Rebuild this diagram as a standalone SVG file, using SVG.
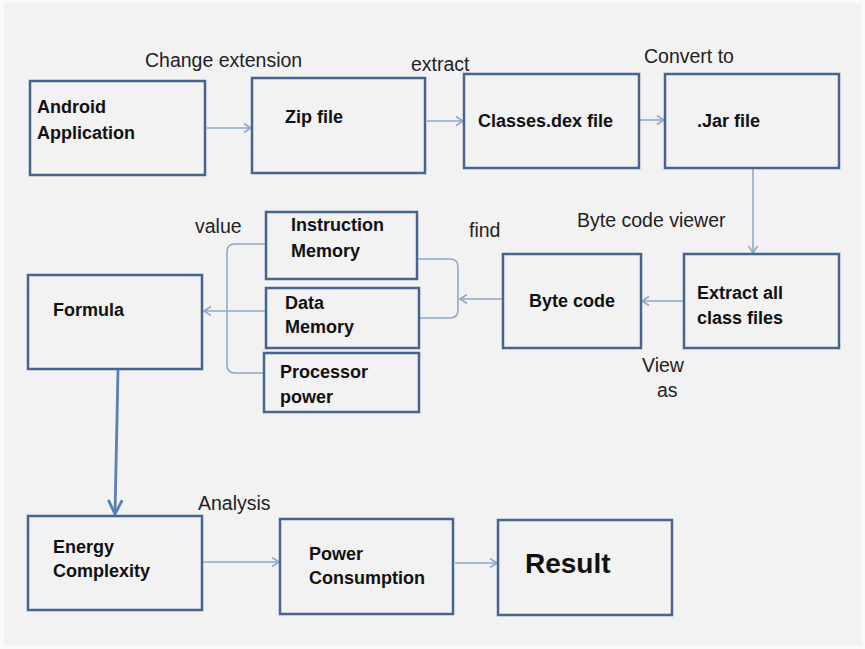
<svg xmlns="http://www.w3.org/2000/svg" width="865" height="649" viewBox="0 0 865 649">
<style>
.box{fill:none;stroke:#46648f;stroke-width:2.5}
.bl{font-family:"Liberation Sans",Arial,sans-serif;font-weight:bold;font-size:18px;fill:#111}
.lb{font-family:"Liberation Sans",Arial,sans-serif;font-size:19.5px;fill:#222}
.c{fill:none;stroke:#8ea9cb;stroke-width:1.6}
.ct{fill:none;stroke:#5a7fb5;stroke-width:2.8}
</style>
<defs>
<marker id="ah" markerUnits="userSpaceOnUse" markerWidth="12" markerHeight="12" refX="8" refY="5" orient="auto">
<path d="M1,0.5 L8,5 L1,9.5" fill="none" stroke="#8ea9cb" stroke-width="1.6"/>
</marker>
<marker id="aht" markerUnits="userSpaceOnUse" markerWidth="20" markerHeight="20" refX="15" refY="8" orient="auto">
<path d="M1,1 L15,8 L1,15" fill="none" stroke="#5a7fb5" stroke-width="2.8"/>
</marker>
</defs>
<rect x="0" y="0" width="865" height="649" fill="#fafafa"/>
<rect x="4" y="3" width="858" height="643" fill="#f2f2f2"/>

<g id="connectors">
<line class="c" x1="207" y1="128" x2="251" y2="128" marker-end="url(#ah)"/>
<line class="c" x1="427" y1="121" x2="463" y2="121" marker-end="url(#ah)"/>
<line class="c" x1="640" y1="120" x2="664" y2="120" marker-end="url(#ah)"/>
<line class="c" x1="753" y1="169" x2="753" y2="253" marker-end="url(#ah)"/>
<line class="c" x1="683" y1="301" x2="642" y2="301" marker-end="url(#ah)"/>
<line class="c" x1="502" y1="299" x2="460" y2="299" marker-end="url(#ah)"/>
<path class="c" d="M418,259 L450,259 Q458,259 458,267 L458,310 Q458,318 450,318 L420,318"/>
<path class="c" d="M265,244 L235,244 Q227,244 227,252 L227,365 Q227,373 235,373 L263,373"/>
<line class="c" x1="265" y1="311" x2="204" y2="311" marker-end="url(#ah)"/>
<line class="ct" x1="118" y1="370" x2="115" y2="514" marker-end="url(#aht)"/>
<line class="c" x1="203" y1="562" x2="279" y2="562" marker-end="url(#ah)"/>
<line class="c" x1="455" y1="563" x2="497" y2="563" marker-end="url(#ah)"/>
</g>

<g id="labels">
<text class="lb" x="145" y="67">Change extension</text>
<text class="lb" x="411" y="71">extract</text>
<text class="lb" x="644" y="63">Convert to</text>
<text class="lb" x="577" y="227">Byte code viewer</text>
<text class="lb" x="469" y="237">find</text>
<text class="lb" x="195" y="233">value</text>
<text class="lb" x="642" y="372">View</text>
<text class="lb" x="657" y="397">as</text>
<text class="lb" x="198" y="510">Analysis</text>
</g>

<g id="android">
<rect class="box" x="30" y="81" width="175" height="94"/>
<text class="bl" x="37" y="113">Android</text>
<text class="bl" x="37" y="139">Application</text>
</g>
<g id="zip">
<rect class="box" x="252" y="78" width="173" height="95"/>
<text class="bl" x="285" y="123">Zip file</text>
</g>
<g id="classes">
<rect class="box" x="464" y="74" width="175" height="94"/>
<text class="bl" x="478" y="127">Classes.dex file</text>
</g>
<g id="jar">
<rect class="box" x="665" y="74" width="174" height="94"/>
<text class="bl" x="697" y="127">.Jar file</text>
</g>
<g id="extract">
<rect class="box" x="684" y="254" width="155" height="94"/>
<text class="bl" x="697" y="299">Extract all</text>
<text class="bl" x="697" y="324">class files</text>
</g>
<g id="bytecode">
<rect class="box" x="503" y="254" width="138" height="94"/>
<text class="bl" x="529" y="307">Byte code</text>
</g>
<g id="instruction">
<rect class="box" x="266" y="212" width="151" height="67"/>
<text class="bl" x="291" y="231">Instruction</text>
<text class="bl" x="291" y="257">Memory</text>
</g>
<g id="data">
<rect class="box" x="266" y="288" width="153" height="60"/>
<text class="bl" x="285" y="309">Data</text>
<text class="bl" x="285" y="333">Memory</text>
</g>
<g id="processor">
<rect class="box" x="264" y="353" width="155" height="59"/>
<text class="bl" x="280" y="378">Processor</text>
<text class="bl" x="280" y="403">power</text>
</g>
<g id="formula">
<rect class="box" x="28" y="275" width="174" height="94"/>
<text class="bl" x="53" y="316">Formula</text>
</g>
<g id="energy">
<rect class="box" x="28" y="516" width="174" height="94"/>
<text class="bl" x="53" y="553">Energy</text>
<text class="bl" x="53" y="577">Complexity</text>
</g>
<g id="power">
<rect class="box" x="280" y="519" width="173" height="95"/>
<text class="bl" x="309" y="560">Power</text>
<text class="bl" x="309" y="584">Consumption</text>
</g>
<g id="result">
<rect class="box" x="498" y="520" width="174" height="95"/>
<text class="bl" x="525" y="573" style="font-size:28px">Result</text>
</g>
</svg>
